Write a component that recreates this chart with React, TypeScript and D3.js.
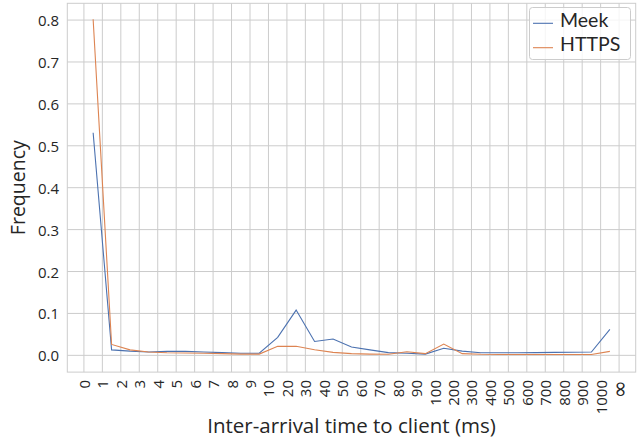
import * as d3 from "d3";

const xTickLabels = [
  "0", "1", "2", "3", "4", "5", "6", "7", "8", "9", "10",
  "20", "30", "40", "50", "60", "70", "80", "90", "100",
  "200", "300", "400", "500", "600", "700", "800", "900", "1000", "∞",
];

// one value per bin, bin i sits between tick i and tick i+1
const meek = [
  0.531, 0.013, 0.010, 0.008, 0.0095, 0.0095, 0.008, 0.0065, 0.005, 0.005,
  0.043, 0.108, 0.033, 0.039, 0.020, 0.013, 0.0065, 0.005, 0.003, 0.017,
  0.010, 0.006, 0.006, 0.006, 0.0065, 0.007, 0.0075, 0.008, 0.062,
];
const https = [
  0.802, 0.026, 0.013, 0.008, 0.006, 0.0055, 0.005, 0.004, 0.003, 0.003,
  0.0215, 0.0215, 0.0135, 0.007, 0.004, 0.003, 0.0025, 0.0085, 0.004, 0.027,
  0.004, 0.0025, 0.002, 0.002, 0.002, 0.002, 0.002, 0.002, 0.0095,
];
const yTicks = [0, 0.1, 0.2, 0.3, 0.4, 0.5, 0.6, 0.7, 0.8];

const series = [
  { name: "Meek", values: meek, color: "#4c72b0" },
  { name: "HTTPS", values: https, color: "#dd8452" },
];

const W = 643;
const H = 444;
const left = 67.3;
const right = 635.7;
const top = 3.3;
const bottom = 372.1;
const font = "'Open Sans', Lato, sans-serif";

export default function App() {
  const x = d3.scaleLinear().domain([-0.9, 29.9]).range([left, right]);
  const y = d3.scaleLinear().domain([-0.04, 0.84]).range([bottom, top]);

  const line = d3
    .line<number>()
    .x((_, i) => x(i + 0.5))
    .y((d) => y(d));

  return (
    <svg
      width={W}
      height={H}
      style={{ position: "absolute", left: 0, top: 0, background: "#fff" }}
      fontFamily={font}
    >
      {/* grid */}
      {xTickLabels.map((_, i) => (
        <line key={"gx" + i} x1={x(i)} x2={x(i)} y1={top} y2={bottom} stroke="#cccccc" strokeWidth={1} />
      ))}
      {yTicks.map((t) => (
        <line key={"gy" + t} x1={left} x2={right} y1={y(t)} y2={y(t)} stroke="#cccccc" strokeWidth={1} />
      ))}
      <rect x={left} y={top} width={right - left} height={bottom - top} fill="none" stroke="#cccccc" strokeWidth={1} />

      {/* lines */}
      {series.map((s) => (
        <path key={s.name} d={line(s.values) || ""} fill="none" stroke={s.color} strokeWidth={1.1} />
      ))}

      {/* y ticks */}
      {yTicks.map((t) => (
        <text key={"yt" + t} x={59} y={y(t)} textAnchor="end" dominantBaseline="central" fontSize={15} fill="#262626">
          {t.toFixed(1)}
        </text>
      ))}

      {/* x ticks */}
      {xTickLabels.map((lab, i) => (
        <text
          key={"xt" + i}
          transform={`translate(${x(i)},380) rotate(-90)`}
          textAnchor="end"
          dominantBaseline="central"
          fontSize={lab === "∞" ? 22 : 15}
          fontFamily={lab === "∞" ? "'DejaVu Sans', sans-serif" : undefined}
          fill="#262626"
        >
          {lab}
        </text>
      ))}

      {/* axis labels */}
      <text x={(left + right) / 2} y={433} textAnchor="middle" fontSize={20.5} fill="#262626">
        Inter-arrival time to client (ms)
      </text>
      <text transform={`translate(25,${(top + bottom) / 2}) rotate(-90)`} textAnchor="middle" fontSize={19.5} fill="#262626">
        Frequency
      </text>

      {/* legend */}
      <g fontFamily="Lato, 'Open Sans', sans-serif">
        <rect x={529.5} y={7.5} width={101} height={52} rx={3} fill="#fff" fillOpacity={0.8} stroke="#cccccc" />
        {series.map((s, i) => (
          <g key={"lg" + s.name}>
            <line x1={533} x2={553} y1={23.3 + i * 24.4} y2={23.3 + i * 24.4} stroke={s.color} strokeWidth={1.1} />
            <text x={560} y={27.3 + i * 24} fontSize={19.5} fill="#262626">
              {s.name}
            </text>
          </g>
        ))}
      </g>
    </svg>
  );
}
